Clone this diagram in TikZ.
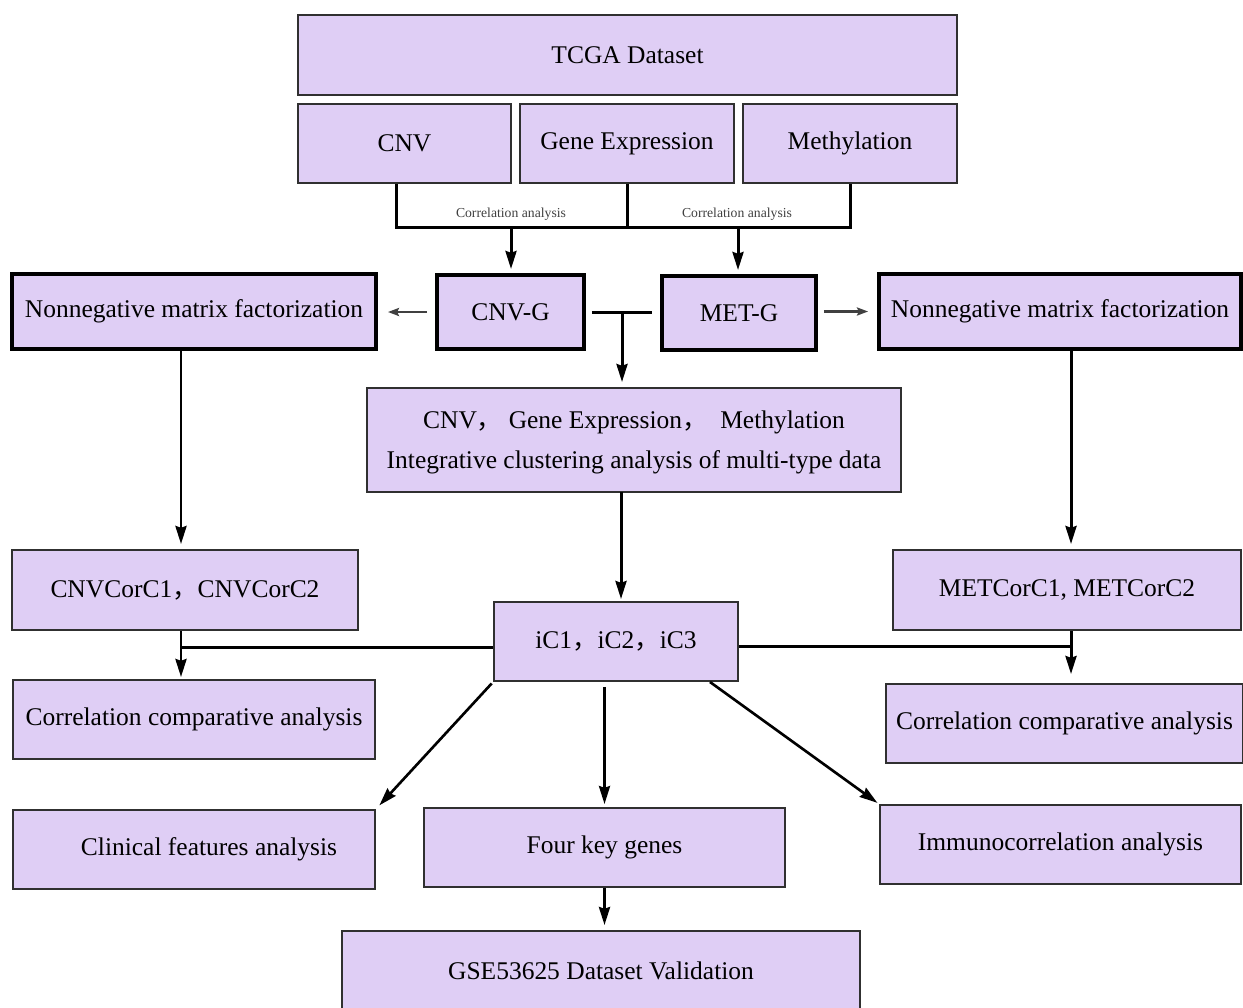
\documentclass[tikz,border=0pt]{standalone}
\usepackage{fontspec}
\setmainfont{Liberation Serif}
\newfontfamily\cjk{Noto Sans CJK SC}
\usetikzlibrary{arrows.meta}
\definecolor{boxfill}{HTML}{DFCEF5}
\definecolor{boxline}{HTML}{303030}
\newcommand{\fw}{{\cjk ，}}

\tikzset{
	box/.style={draw=boxline, line width=1.1pt, rectangle, fill=boxfill, minimum height=1.58cm, font=\fontsize{14.5}{17}\selectfont, inner sep=0pt, align=center},
	boldbox/.style={box, draw=black, line width=2.2pt},
	smalltext/.style={font=\fontsize{7.8}{9}\selectfont, text=black!75},
	link/.style={line width=1.7pt, black},
	arr/.style={link, -{Stealth[length=0.36cm, width=0.22cm, inset=1pt]}},
	grayarr/.style={line width=1.4pt, black!75, -{Stealth[length=0.22cm, width=0.16cm, inset=1pt]}}
}

\begin{document}
\begin{tikzpicture}
				\useasboundingbox (0,0) rectangle (24.86,-20.14);
				% data sources
				\node[box, minimum width=13.18cm, minimum height=1.6cm] (TCGA)at(12.55, -1.10) {TCGA Dataset};
				\node[box, minimum width=4.26cm] (CNV)at(8.09, -2.87) {CNV};
				\node[box, minimum width=4.28cm] (GE)at(12.54, -2.87) {Gene Expression};
				\node[box, minimum width=4.28cm] (Meth)at(17.00, -2.87) {Methylation};
				% correlation step
				\node[boldbox, minimum width=7.28cm, minimum height=1.5cm] (NMFL)at(3.88, -6.23) {Nonnegative matrix factorization};
				\node[boldbox, minimum width=2.94cm, minimum height=1.48cm] (CNVG)at(10.21, -6.24) {CNV-G};
				\node[boldbox, minimum width=3.08cm, minimum height=1.48cm] (METG)at(14.78, -6.26) {MET-G};
				\node[boldbox, minimum width=7.24cm, minimum height=1.5cm] (NMFR)at(21.20, -6.23) {Nonnegative matrix factorization};
				\node[box, minimum width=10.68cm, minimum height=2.08cm, text depth=0pt] (Integ)at(12.68, -8.80) {CNV\fw\ Gene Expression\fw\ \ Methylation\\[0.2cm]Integrative clustering analysis of multi-type data};
				% subtypes
				\node[box, minimum width=6.92cm, minimum height=1.6cm] (CNVCC)at(3.70, -11.80) {CNVCorC1\fw CNVCorC2};
				\node[box, minimum width=6.96cm, minimum height=1.6cm] (METCC)at(21.34, -11.80) {METCorC1, METCorC2};
				\node[box, minimum width=4.88cm] (iC)at(12.32, -12.83) {iC1\fw iC2\fw iC3};
				\node[box, minimum width=7.24cm] (CorrL)at(3.88, -14.39) {Correlation comparative analysis};
				\node[box, minimum width=7.14cm] (CorrR)at(21.29, -14.47) {Correlation comparative analysis};
				% downstream
				\node[box, minimum width=7.24cm] (Clin)at(3.88, -16.99) {\hspace{0.6cm}Clinical features analysis};
				\node[box, minimum width=7.22cm] (Four)at(12.09, -16.95) {Four key genes};
				\node[box, minimum width=7.22cm] (Immuno)at(21.21, -16.89) {Immunocorrelation analysis};
				\node[box, minimum width=10.36cm] (GSE)at(12.02, -19.41) {GSE53625 Dataset Validation};

				% bracket with correlation analysis
				\coordinate (bar)at(0, -4.54);
				\draw[link] ([xshift=-0.16cm]CNV.south) -- ([xshift=-0.16cm]CNV.south |- bar) -- (Meth.south |- bar) -- (Meth.south);
				\draw[link] (GE.south) -- (GE.south |- bar);
				\node[smalltext] (lblL)at(10.22, -4.28) {Correlation analysis};
				\node[smalltext] (lblR)at(14.74, -4.28) {Correlation analysis};
				\draw[arr, shorten >=0.12cm] (10.22, -4.54) -- (10.22, -5.50);
				\draw[arr, shorten >=0.12cm] (14.76, -4.54) -- (14.76, -5.52);

				% to factorization and integration
				\draw[grayarr, shorten <=0.16cm, shorten >=0.2cm] (CNVG.west) -- (CNVG.west -| NMFL.east);
				\draw[grayarr, shorten <=0.12cm, shorten >=0.18cm] (METG.east |- NMFR.west) -- (NMFR.west);
				\coordinate (mid)at(12.44, -6.24);
				\draw[link, shorten <=0.12cm, shorten >=0.16cm] (CNVG.east) -- (CNVG.east -| METG.west);
				\draw[arr, shorten >=0.1cm] (mid) -- (mid |- Integ.north);
				\draw[arr, shorten >=0.1cm] (3.62, -6.98) -- (CNVCC.north -| 3.62, 0);
				\draw[arr, shorten >=0.1cm] (21.42, -6.98) -- (METCC.north -| 21.42, 0);
				\draw[arr, shorten >=0.04cm] (12.42, -9.84) -- (iC.north -| 12.42, 0);

				% comparisons
				\coordinate (jL)at(3.62, -12.94);
				\coordinate (jR)at(21.42, -12.92);
				\draw[link] (iC.west |- jL) -- (jL);
				\draw[link] (iC.east |- jR) -- (jR);
				\draw[arr, shorten >=0.04cm] (CNVCC.south -| jL) -- (CorrL.north -| jL);
				\draw[arr, shorten >=0.18cm] (METCC.south -| jR) -- (CorrR.north -| jR);

				% downstream analyses
				\draw[arr, line width=1.5pt, shorten <=0.04cm, shorten >=0.1cm] (iC.south west) -- (Clin.north east);
				\draw[arr, line width=1.5pt, shorten <=0.1cm, shorten >=0.06cm] (Four.north |- iC.south) -- (Four.north);
				\draw[arr, line width=1.5pt, shorten >=0.04cm] ([xshift=-0.58cm]iC.south east) -- (Immuno.north west);
				\draw[arr, shorten >=0.1cm] (Four.south) -- (Four.south |- GSE.north);
			\end{tikzpicture}
\end{document}
